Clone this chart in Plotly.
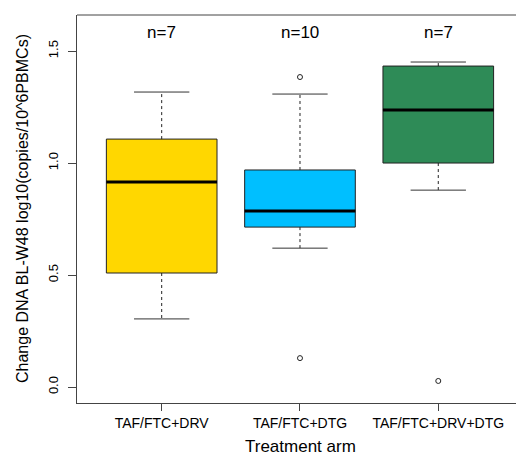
import plotly.graph_objects as go

# ---- data ----
categories = ["TAF/FTC+DRV", "TAF/FTC+DTG", "TAF/FTC+DRV+DTG"]
n_labels = ["n=7", "n=10", "n=7"]
lower_whisker = [0.304, 0.620, 0.879]
q1 = [0.509, 0.714, 1.000]
median = [0.915, 0.786, 1.237]
q3 = [1.107, 0.969, 1.433]
upper_whisker = [1.317, 1.308, 1.451]
outliers = [[], [1.384, 0.129], [0.027]]
colors = ["#FFD700", "#00BFFF", "#2E8B57"]

positions = [1, 2, 3]
box_width = 0.8
cap_half = 0.2
font_family = "Liberation Sans, Arial, sans-serif"

fig = go.Figure()

for i, pos in enumerate(positions):
    fig.add_trace(go.Box(
        x=[pos], q1=[q1[i]], median=[median[i]], q3=[q3[i]],
        lowerfence=[q1[i]], upperfence=[q3[i]],
        width=box_width, fillcolor=colors[i],
        line=dict(color="#222222", width=1),
        whiskerwidth=0, boxpoints=False, hoverinfo="skip", showlegend=False,
    ))
    fig.add_trace(go.Scatter(
        x=[pos, pos, None, pos, pos],
        y=[q3[i], upper_whisker[i], None, q1[i], lower_whisker[i]],
        mode="lines", line=dict(color="#222222", width=1, dash="3px,3px"),
        hoverinfo="skip", showlegend=False,
    ))
    fig.add_trace(go.Scatter(
        x=[pos - cap_half, pos + cap_half, None, pos - cap_half, pos + cap_half],
        y=[upper_whisker[i], upper_whisker[i], None, lower_whisker[i], lower_whisker[i]],
        mode="lines", line=dict(color="#333333", width=1),
        hoverinfo="skip", showlegend=False,
    ))
    fig.add_trace(go.Scatter(
        x=[pos - box_width / 2, pos + box_width / 2],
        y=[median[i], median[i]],
        mode="lines", line=dict(color="black", width=3),
        hoverinfo="skip", showlegend=False,
    ))
    if outliers[i]:
        fig.add_trace(go.Scatter(
            x=[pos] * len(outliers[i]), y=outliers[i],
            mode="markers",
            marker=dict(symbol="circle-open", size=5, color="#222222", line=dict(width=1)),
            hoverinfo="skip", showlegend=False,
        ))
    fig.add_annotation(x=pos, y=1.585, text=n_labels[i], showarrow=False,
                       font=dict(size=17, color="black", family=font_family),
                       xanchor="center", yanchor="middle")

# axis titles as paper annotations (plot area: x 77..516, y 15..403 px)
fig.add_annotation(xref="paper", yref="paper", x=(300 - 77) / 439, y=(403 - 446) / 388,
                   text="Treatment arm", showarrow=False,
                   font=dict(size=17, color="black", family=font_family),
                   xanchor="center", yanchor="middle")
fig.add_annotation(xref="paper", yref="paper", x=(22 - 77) / 439, y=(403 - 209) / 388,
                   text="Change DNA BL-W48 log10(copies/10^6PBMCs)", showarrow=False, textangle=-90,
                   font=dict(size=16, color="black", family=font_family),
                   xanchor="center", yanchor="middle")

fig.update_layout(
    width=516, height=458,
    margin=dict(l=77, r=0, t=15, b=55, autoexpand=False),
    paper_bgcolor="white", plot_bgcolor="white",
    font=dict(family=font_family, color="black"),
    xaxis=dict(
        range=[0.3876, 3.562], tickvals=positions, ticktext=categories,
        showgrid=False, zeroline=False, showline=True, linecolor="#444444", linewidth=1,
        ticks="outside", ticklen=7, tickcolor="#444444",
        tickfont=dict(size=14), automargin=False,
    ),
    yaxis=dict(
        range=[-0.0714, 1.661], tickvals=[0.0, 0.5, 1.0, 1.5],
        ticktext=["0.0", "0.5", "1.0", "1.5"],
        showgrid=False, zeroline=False, showline=True, linecolor="#444444", linewidth=1,
        ticks="outside", ticklen=8, tickcolor="#444444",
        tickangle=-90, tickfont=dict(size=13), automargin=False, ticklabelstandoff=5,
    ),
    shapes=[dict(type="line", xref="paper", yref="paper", x0=0, x1=1, y0=1, y1=1,
                 line=dict(color="#444444", width=1))],
)

fig.write_html("out.html", config={"displayModeBar": False},
               post_script="document.body.style.margin='0';document.body.style.overflow='hidden';")
